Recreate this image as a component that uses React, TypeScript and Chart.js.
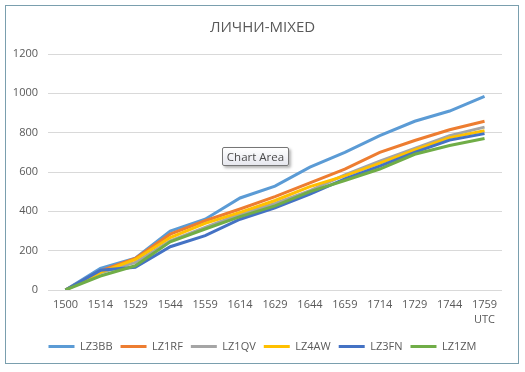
import React, { useEffect, useRef } from "react";
import { Chart, registerables } from "chart.js";

Chart.register(...registerables);

const TITLE = "ЛИЧНИ-MIXED";
const categories: (string | string[])[] = [
  "1500", "1514", "1529", "1544", "1559", "1614", "1629",
  "1644", "1659", "1714", "1729", "1744", ["1759", "UTC"],
];
const seriesNames = ["LZ3BB", "LZ1RF", "LZ1QV", "LZ4AW", "LZ3FN", "LZ1ZM"];
const seriesColors = ["#5B9BD5", "#ED7D31", "#A5A5A5", "#FFC000", "#4472C4", "#70AD47"];
const LZ3BB = [0, 110, 162, 300, 360, 468, 528, 625, 700, 785, 858, 910, 985];
const LZ1RF = [0, 97, 160, 284, 352, 412, 475, 545, 615, 700, 760, 815, 858];
const LZ1QV = [0, 88, 140, 250, 318, 385, 440, 505, 585, 655, 720, 785, 828];
const LZ4AW = [0, 90, 155, 267, 339, 395, 455, 526, 580, 645, 712, 775, 810];
const LZ3FN = [0, 100, 116, 220, 276, 360, 418, 488, 565, 630, 700, 762, 795];
const LZ1ZM = [0, 71, 123, 245, 310, 373, 428, 500, 557, 615, 690, 735, 770];
const seriesValues = [LZ3BB, LZ1RF, LZ1QV, LZ4AW, LZ3FN, LZ1ZM];
const yTicks = [0, 200, 400, 600, 800, 1000, 1200];

const FONT = "'Open Sans', 'Liberation Sans', sans-serif";
const TEXT = "#595959";

export default function App() {
  const ref = useRef<HTMLCanvasElement>(null);
  useEffect(() => {
    document.body.style.margin = "0";
    const chart = new Chart(ref.current!, {
      type: "line",
      data: {
        labels: categories,
        datasets: seriesNames.map((name, i) => ({
          label: name,
          data: seriesValues[i],
          borderColor: seriesColors[i],
          backgroundColor: seriesColors[i],
          borderWidth: 3,
          pointRadius: 0,
          tension: 0,
          order: -i,
          yAxisID: "y",
        })),
      },
      options: {
        responsive: false,
        animation: false,
        layout: { padding: { left: 8, right: 8, top: 0, bottom: 10 } },
        plugins: {
          tooltip: { enabled: false },
          title: {
            display: true,
            text: TITLE,
            color: TEXT,
            font: { family: FONT, size: 15, weight: "normal" },
            padding: { top: 19, bottom: 17 },
          },
          legend: {
            position: "bottom",
            labels: {
              usePointStyle: true,
              pointStyle: "line",
              pointStyleWidth: 26,
              boxHeight: 3,
              padding: 8,
              color: TEXT,
              font: { family: FONT, size: 11 },
              sort: (a: any, b: any) => a.datasetIndex - b.datasetIndex,
            },
          },
        },
        scales: {
          x: {
            offset: true,
            grid: { display: false, drawTicks: false },
            border: { display: false },
            ticks: {
              color: TEXT,
              font: { family: FONT, size: 11, lineHeight: 1.4 },
              padding: 7,
              maxRotation: 0,
              autoSkip: false,
            },
            afterFit: (s: any) => { s.height = 43; },
          },
          y: {
            min: 0,
            max: 1200,
            afterBuildTicks: (s: any) => { s.ticks = yTicks.map((v) => ({ value: v })); },
            grid: { color: "#D9D9D9", drawTicks: false, lineWidth: 1 },
            border: { display: false },
            ticks: {
              color: TEXT,
              font: { family: FONT, size: 11 },
              padding: 10,
              callback: (v: any) => String(v),
            },
            afterFit: (s: any) => { s.width = 40; },
          },
          yRight: {
            type: "linear",
            position: "right",
            grid: { display: false, drawTicks: false },
            border: { display: false },
            ticks: { display: false },
            afterFit: (s: any) => { s.width = 15; },
          },
        },
      },
    });
    return () => chart.destroy();
  }, []);
  return (
    <div style={{ position: "fixed", left: 0, top: 0, width: 525, height: 372, background: "#fff" }}>
      <canvas ref={ref} width={525} height={372} style={{ position: "absolute", left: 0, top: 0 }} />
      <div
        style={{
          position: "absolute", left: 5, top: 5, width: 512, height: 357,
          border: "1px solid #7A9FAE", pointerEvents: "none",
        }}
      />
      <div
        style={{
          position: "absolute", left: 222, top: 147, width: 65, height: 17,
          border: "1px solid #767676", borderRadius: 2,
          background: "linear-gradient(#ffffff, #e6e7ee)",
          boxShadow: "2px 2px 3px rgba(0,0,0,0.3)",
          font: `11.5px ${FONT}`, color: "#4a4a4a",
          display: "flex", alignItems: "center", justifyContent: "center",
          boxSizing: "content-box",
        }}
      >
        Chart Area
      </div>
    </div>
  );
}
